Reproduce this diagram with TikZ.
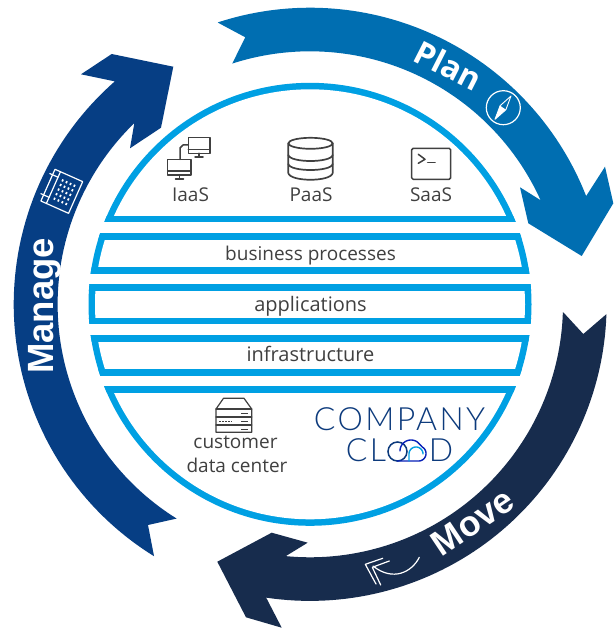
\documentclass[tikz,border=0pt]{standalone}
\usepackage{fontspec}
\setmainfont{Open Sans}
\newfontfamily\arrowfont{Liberation Sans}
\newfontfamily\logofont[LetterSpace=7.5]{Lato Light}
\definecolor{planblue}{HTML}{006EB1}
\definecolor{manageblue}{HTML}{063E84}
\definecolor{movenavy}{HTML}{172C4D}
\definecolor{ringblue}{HTML}{00A0E3}
\definecolor{txtgrey}{HTML}{404040}
\definecolor{logoblue}{HTML}{0C3A7C}
\def\PX{\ax+\ar*cos(\t)}
\def\PY{\ay-\ar*sin(\t)}
\tikzset{
  arcp/.style n args={5}{domain=#4:#5,samples=70,variable=\t,/utils/exec={\gdef\ax{#1}\gdef\ay{#2}\gdef\ar{#3}}},
  ring/.style n args={3}{arcp={310}{304.3}{#1}{#2}{#3}},
  textlabel/.style={text=txtgrey,font=\fontsize{19}{22}\selectfont,anchor=base,inner sep=0pt},
  biglabel/.style={textlabel,font=\fontsize{20}{23}\selectfont},
  icon/.style={draw=txtgrey,line width=1.5pt,line join=round,line cap=round},
  wicon/.style={draw=white,line width=1.2pt,line join=round,line cap=round},
  logotxt/.style={text=logoblue,font=\logofont\fontsize{32}{36}\selectfont,anchor=base,inner sep=0pt},
  arrowtxt/.style={text=white,anchor=base,inner sep=0pt}
}
\begin{document}
\begin{tikzpicture}[x=1pt,y=-1pt]
\useasboundingbox (0,0) rectangle (614,628);
\fill[white] (0,0) rectangle (614,628);
% Plan
\fill[planblue] (218,22.7) -- plot[ring={296.6}{108.1}{21.4}] ({\PX},{\PY}) -- (605,166.7) -- (613.3,203.3) -- (581.7,256) -- (528.3,223.3) -- (520,187.3) -- plot[ring={253}{24.3}{107.9}] ({\PX},{\PY}) -- (245.3,37.3) -- cycle;
% Move
\fill[movenavy] (563.3,312.3) -- plot[ring={253}{-1.8}{-95.5}] ({\PX},{\PY}) -- (307.7,542.7) -- (271.7,532.7) -- (217.3,561.7) -- (246,617.3) -- (281.7,627.7) -- plot[ring={296.6}{-98.5}{-1.9}] ({\PX},{\PY}) -- (583.3,334) -- cycle;
% Manage
\fill[manageblue] (154,556) -- plot[ring={296.3}{238.2}{131.2}] ({\PX},{\PY}) -- (81,74.3) -- (111.7,54) -- (173.3,66.7) -- (161,127.7) -- (130,148.3) -- (134.3,123.3) -- plot[ring={252.4}{134.2}{238.1}] ({\PX},{\PY}) -- (148,525) -- cycle;
% Globe
\fill[ringblue] (310,304.3) circle [radius=221.5];
\fill[white] (310,304.3) circle [radius=215];
\begin{scope}
\clip (310,304.3) circle [radius=221.5];
\foreach \a/\b in {215.7/222.3,233/239.6,267.2/273.7,284/290.5,317.8/324.3,335/341.5,369.2/375.7,386/392.5}
  \fill[ringblue] (80,\a) rectangle (540,\b);
\end{scope}
\foreach \a/\b/\l/\r in {222.3/233/98/522,273.7/284/87/533,324.3/335/87/533,375.7/386/98/522}
  \fill[white] (\l,\a) rectangle (\r,\b);
% Labels
\node[textlabel] (iaas) at (190.5,201) {IaaS};
\node[textlabel] (paas) at (311,201) {PaaS};
\node[textlabel] (saas) at (431,201) {SaaS};
\node[textlabel] (bp) at (310.5,260) {business processes};
\node[biglabel] (apps) at (310.5,311) {applications};
\node[biglabel] (infra) at (310.5,361.7) {infrastructure};
\node[textlabel] (cust) at (235.5,448) {customer};
\node[textlabel] (dc) at (237,472) {data center};
% Logo
\node[logotxt] (company) at (399.5,430) {COMPANY};
\node[logotxt] (cl) at (366,461.5) {CL};
\node[logotxt] (d) at (441,461.5) {D};
\draw[logoblue,line width=1.5pt] (397.5,451.5) circle [radius=9.5];
\draw[blue!45!logoblue,line width=1.4pt,line cap=round] (397,461) -- (418,461) -- plot[arcp={418.5}{453.5}{7.5}{-90}{60}] ({\PX},{\PY}) -- plot[arcp={411}{451}{11}{55}{180}] ({\PX},{\PY});
\draw[ringblue,line width=1.4pt,line cap=round] plot[arcp={416}{454}{7}{0}{180}] ({\PX},{\PY}) -- (409,461);
% Arrow words
\node[arrowtxt,rotate=-27,font=\bfseries\fontsize{32}{35}\selectfont] (plan) at (443,76.3) {Plan};
\node[arrowtxt,rotate=33.8,font=\arrowfont\bfseries\fontsize{35.5}{38}\selectfont] (move) at (479.5,532) {Move};
\node[arrowtxt,rotate=90,font=\arrowfont\bfseries\fontsize{36.5}{40}\selectfont] (manage) at (53,306) {Manage};
% Compass
\draw[wicon] (503.3,107.7) circle [radius=17];
\draw[wicon,line width=0.9pt] (495,119.3) -- (500.1,105.7) -- (511,96) -- (505.9,109.7) -- cycle;
\fill[white] (495,119.3) -- (500.1,105.7) -- (505.9,109.7) -- cycle;
% Move icon
\draw[wicon] (419.3,557.3) .. controls (412,572) and (393,582) .. (373,566);
\draw[wicon] (382.7,558.3) -- (365.3,564.3) -- (376,584);
\draw[wicon] (389.3,561) -- (372.3,567.3) -- (380.7,585);
% Calendar icon
\begin{scope}[shift={(55,169.3)},rotate=-24]
\draw[wicon] (0,0) rectangle (30.3,34.7);
\draw[wicon] (6,0) -- (6,34.7);
\draw[wicon] (-3,6) -- (6,6) (-3,28) -- (6,28);
\foreach \cx in {11.5,15.8,20.1,24.4}
  \foreach \cy in {6,11,16,21,26}
    \draw[white,line width=1.7pt] (\cx,\cy) -- (\cx,\cy+2.2);
\end{scope}
% IaaS icon
\draw[icon] (188.3,137.3) rectangle (210,153.3);
\draw[icon] (188.3,149.3) -- (210,149.3);
\draw[icon] (199,153.3) -- (199,156.5) (195,157) -- (203,157);
\draw[icon] (167.7,159.3) rectangle (191,175);
\draw[icon] (167.7,171) -- (191,171);
\draw[icon] (179.5,175) -- (179.5,178) (175.5,179) -- (183.5,179);
\draw[icon] (188.3,145) -- (183,145) -- (180,148) -- (180,159.3);
% PaaS icon
\draw[icon,line width=1.7pt] (310.5,143.3) ellipse [x radius=22.2, y radius=5.5];
\draw[icon,line width=1.7pt] (288.3,143.3) -- (288.3,173) .. controls (290,182) and (331,182) .. (332.7,173) -- (332.7,143.3);
\draw[icon,line width=1.7pt] (288.3,155) .. controls (290,163) and (331,163) .. (332.7,155);
\draw[icon,line width=1.7pt] (288.3,164) .. controls (290,172) and (331,172) .. (332.7,164);
% SaaS icon
\draw[icon,rounded corners=1.5pt] (411.7,148.3) rectangle (450.7,179.3);
\draw[icon] (418.3,154.3) -- (425,159.3) -- (418.3,163.3);
\draw[icon] (427.7,162.7) -- (435,162.7);
% Server icon
\draw[icon,line width=1.2pt] (216,409) -- (223.5,398.3) -- (244,398.3) -- (251.7,409) -- (251.7,432.3) -- (216,432.3) -- cycle;
\draw[icon,line width=1.2pt] (216,409) -- (251.7,409) (216,417) -- (251.7,417) (216,425) -- (251.7,425);
\draw[txtgrey,line width=1pt,line cap=butt] (241,413) -- (248,413) (241,421) -- (248,421) (241,429) -- (248,429);
\draw[txtgrey,line width=1pt,dash pattern=on 1.5pt off 1.5pt] (219,421) -- (232,421);
\end{tikzpicture}
\end{document}
